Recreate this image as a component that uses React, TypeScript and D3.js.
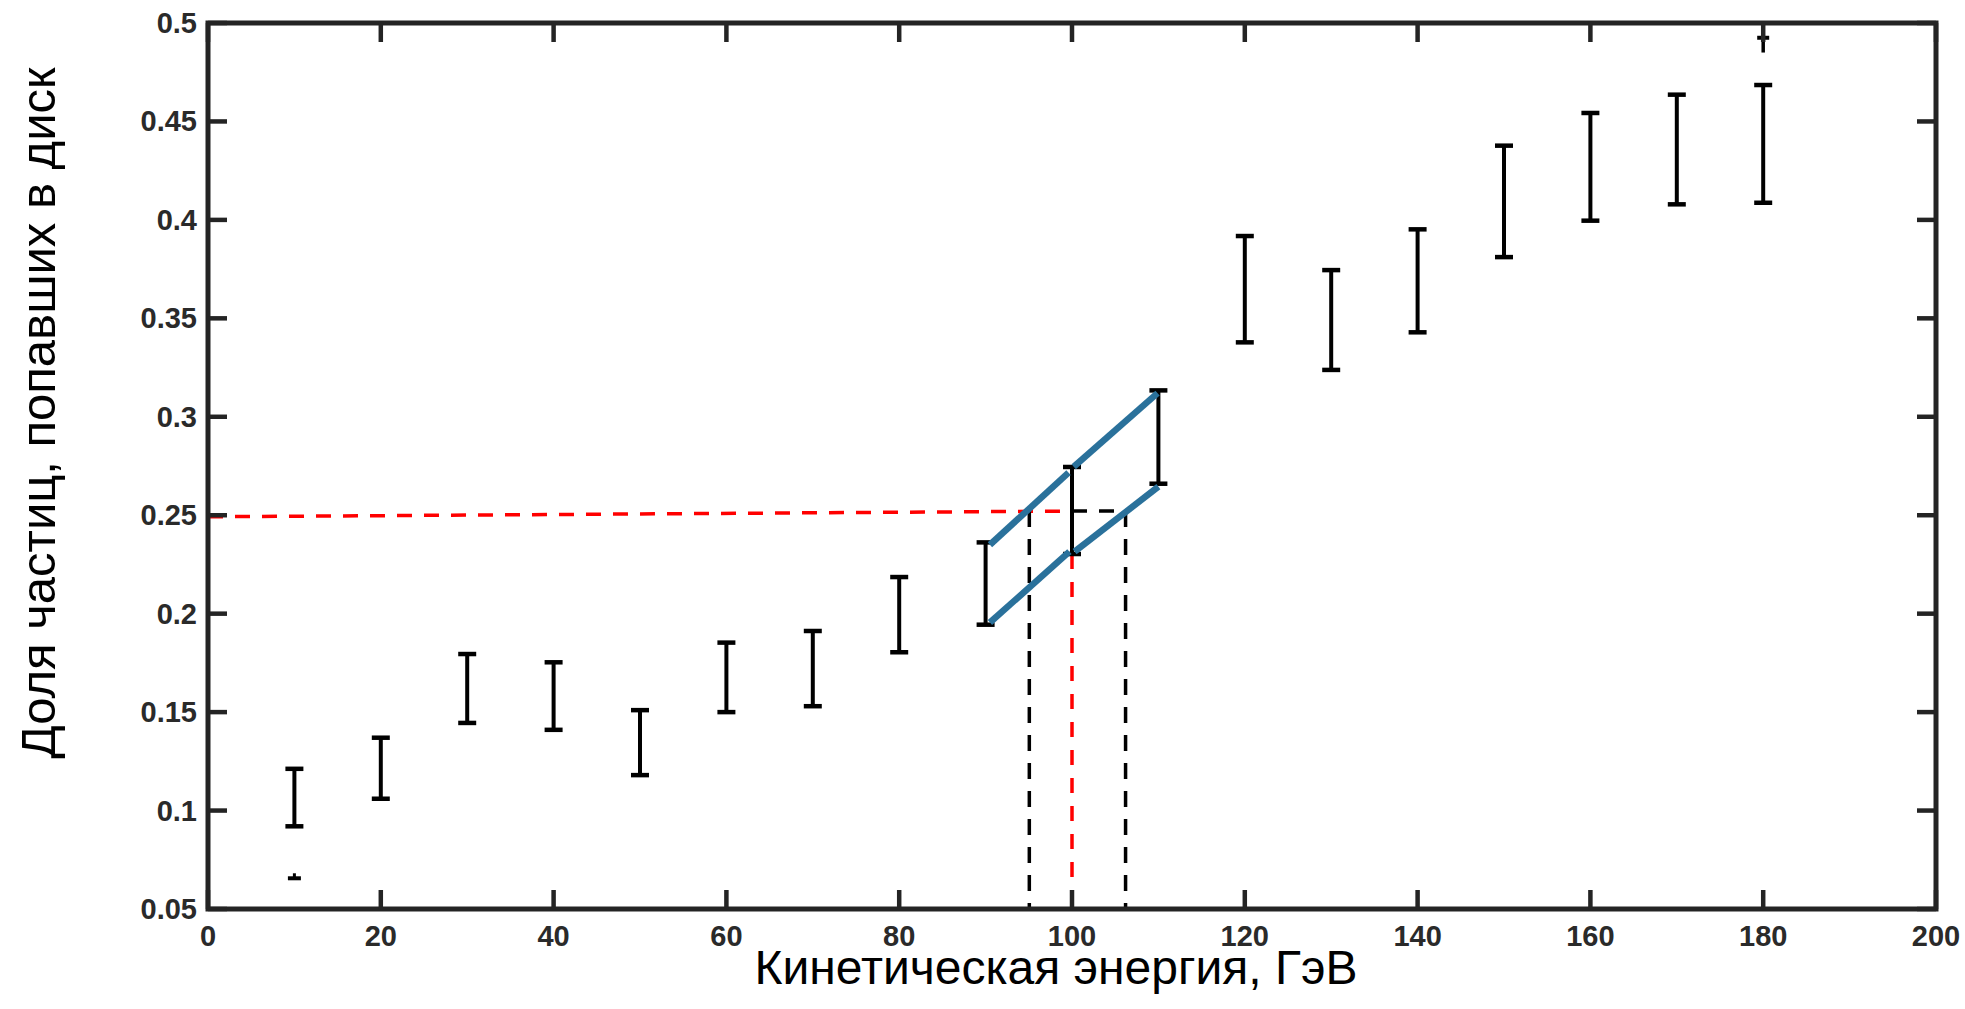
import React from "react";
import * as d3 from "d3";

const energies = [10, 20, 30, 40, 50, 60, 70, 80, 90, 100, 110, 120, 130, 140, 150, 160, 170, 180];
const lowerVals = [0.092, 0.106, 0.1445, 0.141, 0.118, 0.150, 0.153, 0.1804, 0.1944, 0.2303, 0.266, 0.3378, 0.3238, 0.3429, 0.3811, 0.3996, 0.4079, 0.4087];
const upperVals = [0.1212, 0.137, 0.1795, 0.1753, 0.151, 0.1853, 0.1912, 0.2186, 0.2362, 0.2745, 0.3134, 0.3918, 0.3745, 0.3952, 0.4377, 0.4543, 0.4636, 0.4685];

// stray partial markers
const strayLowCap = { x: 10, y: 0.0656 };
const strayTop = { x: 180, from: 0.485, to: 0.5, cap: 0.4925 };

const xTicks = [0, 20, 40, 60, 80, 100, 120, 140, 160, 180, 200];
const yTicks = [0.05, 0.1, 0.15, 0.2, 0.25, 0.3, 0.35, 0.4, 0.45, 0.5];
const yTickLabels = ["0.05", "0.1", "0.15", "0.2", "0.25", "0.3", "0.35", "0.4", "0.45", "0.5"];

// blue guide lines (x, y)
const blueUpper: [number, number][][] = [
  [[90.5, 0.235], [99.6, 0.2716]],
  [[100.2, 0.2746], [109.9, 0.312]],
];
const blueLower: [number, number][][] = [
  [[90.5, 0.1955], [99.7, 0.2315]],
  [[100.3, 0.2315], [110, 0.2645]],
];

// dashed construction lines
const redHorizontal: [number, number][] = [[0, 0.2492], [100, 0.2521]];
const blackHorizontal: [number, number][] = [[100, 0.2521], [106.2, 0.2521]];
const blackVerticalX = [95.06, 106.2];
const blackVerticalTop = 0.2521;
const redVertical = { x: 100, top: 0.2303 };

const xTitle = "Кинетическая энергия, ГэВ";
const yTitle = "Доля частиц, попавших в диск";

export default function App() {
  const W = 1965, H = 1009;
  const x = d3.scaleLinear().domain([0, 200]).range([208, 1936]);
  const y = d3.scaleLinear().domain([0.05, 0.5]).range([909, 23]);
  const line = d3.line<[number, number]>().x(d => x(d[0])).y(d => y(d[1]));

  const axisColor = "#242424";
  const tickLen = 19;
  const capW = 18;
  const font = "'Liberation Sans', Arial, sans-serif";

  return (
    <svg width={W} height={H} style={{ position: "absolute", left: 0, top: 0, background: "#fff" }}>
      <rect x={0} y={0} width={W} height={H} fill="#fff" />

      {/* dashed construction lines */}
      <path d={line(redHorizontal) || ""} stroke="#ff0000" strokeWidth={3.5} strokeDasharray="15 12" fill="none" />
      <path d={line(blackHorizontal) || ""} stroke="#000" strokeWidth={3.5} strokeDasharray="15 12" fill="none" />
      {blackVerticalX.map((vx, i) => (
        <line key={"bv" + i} x1={x(vx)} x2={x(vx)} y1={y(blackVerticalTop)} y2={y(0.05)}
          stroke="#000" strokeWidth={3.5} strokeDasharray="16 12" />
      ))}
      <line x1={x(redVertical.x)} x2={x(redVertical.x)} y1={y(redVertical.top)} y2={y(0.05)}
        stroke="#ff0000" strokeWidth={3.5} strokeDasharray="15 13" />

      {/* error bars */}
      {energies.map((e, i) => {
        const cx = x(e);
        return (
          <g key={"eb" + i} stroke="#000">
            <line x1={cx} x2={cx} y1={y(lowerVals[i])} y2={y(upperVals[i])} strokeWidth={4} />
            <line x1={cx - capW / 2} x2={cx + capW / 2} y1={y(lowerVals[i])} y2={y(lowerVals[i])} strokeWidth={4.5} />
            <line x1={cx - capW / 2} x2={cx + capW / 2} y1={y(upperVals[i])} y2={y(upperVals[i])} strokeWidth={4.5} />
          </g>
        );
      })}

      {/* stray markers */}
      <g stroke="#000">
        <line x1={x(strayLowCap.x) - 6.5} x2={x(strayLowCap.x) + 6.5} y1={y(strayLowCap.y)} y2={y(strayLowCap.y)} strokeWidth={4} />
        <line x1={x(strayLowCap.x)} x2={x(strayLowCap.x)} y1={y(strayLowCap.y)} y2={y(strayLowCap.y) - 5} strokeWidth={3} />
        <line x1={x(strayTop.x)} x2={x(strayTop.x)} y1={y(strayTop.from)} y2={y(strayTop.to)} strokeWidth={3.5} />
        <line x1={x(strayTop.x) - 6} x2={x(strayTop.x) + 6} y1={y(strayTop.cap)} y2={y(strayTop.cap)} strokeWidth={4} />
      </g>

      {/* blue lines */}
      {[...blueUpper, ...blueLower].map((seg, i) => (
        <path key={"bl" + i} d={line(seg) || ""} stroke="#2a719b" strokeWidth={6.5} fill="none" />
      ))}

      {/* axes box */}
      <rect x={x(0)} y={y(0.5)} width={x(200) - x(0)} height={y(0.05) - y(0.5)}
        fill="none" stroke={axisColor} strokeWidth={5} />

      {/* ticks */}
      {xTicks.map((t, i) => (
        <g key={"xt" + i} stroke={axisColor} strokeWidth={4.5}>
          <line x1={x(t)} x2={x(t)} y1={y(0.05)} y2={y(0.05) - tickLen} />
          <line x1={x(t)} x2={x(t)} y1={y(0.5)} y2={y(0.5) + tickLen} />
        </g>
      ))}
      {yTicks.map((t, i) => (
        <g key={"yt" + i} stroke={axisColor} strokeWidth={4.5}>
          <line x1={x(0)} x2={x(0) + tickLen} y1={y(t)} y2={y(t)} />
          <line x1={x(200)} x2={x(200) - tickLen} y1={y(t)} y2={y(t)} />
        </g>
      ))}

      {/* tick labels */}
      {xTicks.map((t, i) => (
        <text key={"xl" + i} x={x(t)} y={946} textAnchor="middle" fontFamily={font}
          fontWeight="bold" fontSize={29} fill="#2a2a2a">{String(t)}</text>
      ))}
      {yTicks.map((t, i) => (
        <text key={"yl" + i} x={197} y={y(t) + 10} textAnchor="end" fontFamily={font}
          fontWeight="bold" fontSize={29} fill="#2a2a2a">{yTickLabels[i]}</text>
      ))}

      {/* titles */}
      <text x={1056} y={984} textAnchor="middle" fontFamily={font} fontSize={48} fill="#000">{xTitle}</text>
      <text transform={`translate(55, 413) rotate(-90)`} textAnchor="middle" fontFamily={font}
        fontSize={49} fill="#000">{yTitle}</text>
    </svg>
  );
}
